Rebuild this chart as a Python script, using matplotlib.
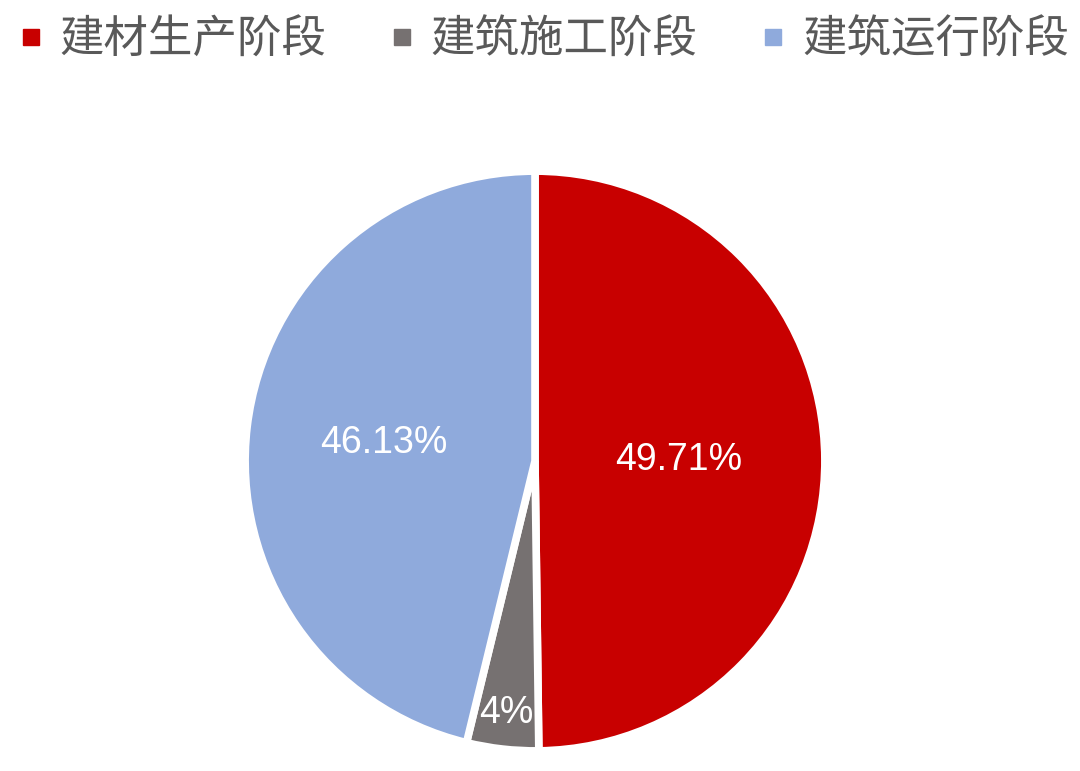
import numpy as np
import matplotlib
matplotlib.use("Agg")
import matplotlib.pyplot as plt
from matplotlib.lines import Line2D

categories = ["建材生产阶段", "建筑施工阶段", "建筑运行阶段"]
values = [49.71, 4.0, 46.13]
labels = ["49.71%", "4%", "46.13%"]
colors = ["#C80000", "#767171", "#8FAADC"]
label_dist = [0.50, 0.885, 0.53]

plt.rcParams['font.family'] = ['Noto Sans CJK SC', 'DejaVu Sans']

fig = plt.figure(figsize=(10.8, 7.71), dpi=100)
ax = fig.add_axes([248/1080, (771-748)/771, 574/1080, 574/771])
wedges, _ = ax.pie(values, colors=colors, startangle=90, counterclock=False,
                   radius=1.01,
                   wedgeprops=dict(edgecolor="white", linewidth=5.5))
ax.set_xlim(-1, 1)
ax.set_ylim(-1, 1)
ax.set_aspect("equal")
ax.axis("off")
for w in wedges:
    w.set_clip_on(False)

total = sum(values)
start = 90.0
for v, lab, d in zip(values, labels, label_dist):
    span = v / total * 360.0
    mid = np.deg2rad(start - span / 2)
    ax.text(d * np.cos(mid), d * np.sin(mid), lab, ha="center", va="center",
            color="white", fontsize=27, family=["Liberation Sans", "DejaVu Sans"])
    start -= span

handles = [Line2D([0], [0], marker="s", linestyle="none", markersize=12,
                  markerfacecolor=c, markeredgecolor=c) for c in colors]
leg = fig.legend(handles, categories, loc="upper center", ncol=3,
                 bbox_to_anchor=(0.503, 1.03), frameon=False,
                 fontsize=32, handlelength=0.6, handletextpad=0.35,
                 columnspacing=1.4, labelcolor="#595959")

fig.savefig("out.png", dpi=100, facecolor="white")
